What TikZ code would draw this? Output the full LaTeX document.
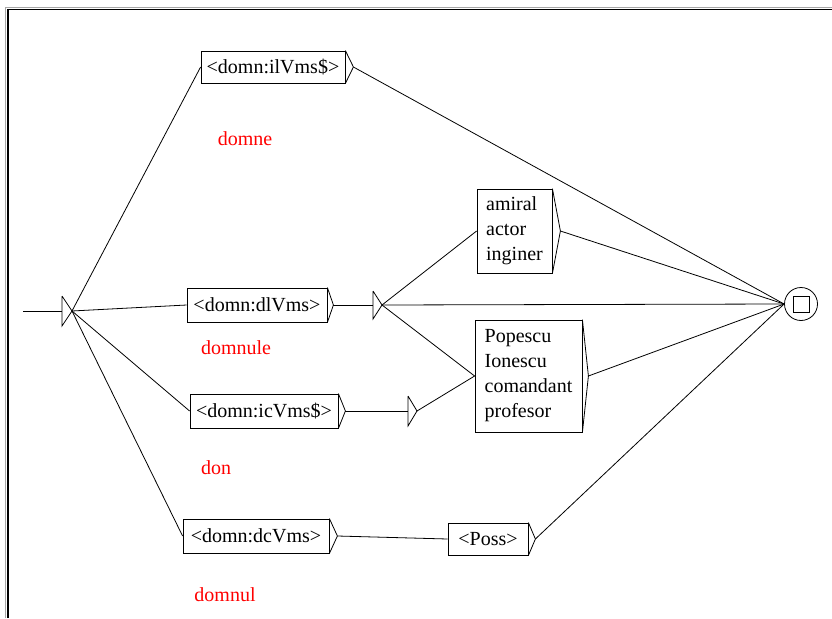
\documentclass[tikz,border=0pt]{standalone}
\usepackage{fontspec}
\setmainfont{Liberation Serif}
\usetikzlibrary{calc}
\begin{document}
\begin{tikzpicture}[x=1pt,y=-1pt,line width=0.8pt,
  boxn/.style={draw,rectangle,inner sep=0pt,align=left,font=\fontsize{20}{25}\selectfont},
  redlbl/.style={text=red,font=\fontsize{20}{25}\selectfont,inner sep=0pt}]
\useasboundingbox (0,0) rectangle (832,618);
% frame
\draw[gray!70,line width=1pt] (5.5,618) -- (5.5,7.5) -- (832,7.5);
\draw[black,line width=1.1pt] (8,618) -- (8,9.5) -- (832,9.5);
% boxes
\node[boxn,minimum width=144,minimum height=32] (b1) at (273,67) {<domn:ilVms\$>};
\node[boxn,minimum width=140,minimum height=34] (b2) at (257,305) {<domn:dlVms>};
\node[boxn,minimum width=148,minimum height=34] (b3) at (264,411) {<domn:icVms\$>};
\node[boxn,minimum width=146,minimum height=34] (b4) at (256,536) {<domn:dcVms>};
\node[boxn,minimum width=75,minimum height=84] (am) at (514.5,231) {amiral\\actor\\inginer};
\node[boxn,minimum width=107,minimum height=112] (po) at (528.5,376) {Popescu\\Ionescu\\comandant\\profesor};
\node[boxn,minimum width=80,minimum height=32] (ps) at (488,539) {<Poss>};
% bracket tips
\foreach \n/\d in {b1/8,b2/6,b3/7,b4/8,am/8,po/6,ps/7}{
  \coordinate (\n t) at ($(\n.east)+(\d,0)$);
  \draw (\n.north east) -- (\n t) -- (\n.south east);
}
% initial state
\coordinate (iv) at (62,311);
\coordinate (it) at (72,311);
\coordinate (istart) at (23,311);
\draw (62,296) -- (62,326) -- (it) -- (62,296);
\draw (istart) -- (iv);
% empty nodes
\coordinate (ea) at (373,305);
\coordinate (eat) at (382,305);
\draw (373,291) -- (373,319) -- (eat) -- (373,291);
\coordinate (eb) at (408,411);
\coordinate (ebt) at (417,411);
\draw (408,396) -- (408,426) -- (ebt) -- (408,396);
% final state
\node[draw,circle,minimum size=33,inner sep=0pt] (fin) at (801,304) {};
\node[draw,rectangle,minimum size=16,inner sep=0pt] (fsq) at (801,304) {};
% red labels
\node[redlbl] (l1) at (245,139) {domne};
\node[redlbl] (l2) at (236,348) {domnule};
\node[redlbl] (l3) at (216,468) {don};
\node[redlbl] (l4) at (225,595) {domnul};
% edges
\draw (it) -- (b1.west);
\draw (it) -- (b2.west);
\draw (it) -- (b3.west);
\draw (it) -- (b4.west);
\draw (b1t) -- (fin.west);
\draw (b2t) -- (ea);
\draw (eat) -- (am.west);
\draw (eat) -- (fin.west);
\draw (eat) -- (po.west);
\draw (b3t) -- (eb);
\draw (ebt) -- (po.west);
\draw (amt) -- (fin.west);
\draw (pot) -- (fin.west);
\draw (b4t) -- (ps.west);
\draw (pst) -- (fin.west);
\end{tikzpicture}
\end{document}
